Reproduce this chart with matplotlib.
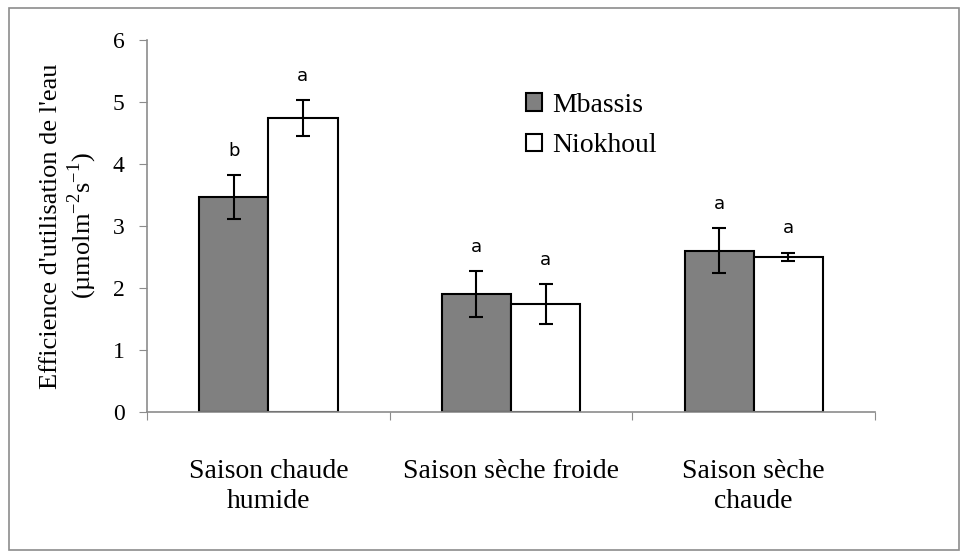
import numpy as np
import matplotlib.pyplot as plt
from matplotlib.patches import Rectangle

# data
categories = ["Saison chaude\nhumide", "Saison sèche froide", "Saison sèche\nchaude"]
mbassis = [3.47, 1.90, 2.60]
mbassis_err = [0.35, 0.37, 0.36]
niokhoul = [4.74, 1.74, 2.50]
niokhoul_err = [0.29, 0.32, 0.07]
letters_mbassis = ["b", "a", "a"]
letters_niokhoul = ["a", "a", "a"]

serif = "Liberation Serif"
plt.rcParams["mathtext.fontset"] = "custom"
plt.rcParams["mathtext.rm"] = serif

fig = plt.figure(figsize=(9.61, 5.54), dpi=100)
ax = fig.add_axes([0.153, 0.2563, 0.7575, 0.6715])

# outer chart frame
fig.patches.append(Rectangle((0.0094, 0.007), 0.988, 0.979, transform=fig.transFigure,
                             fill=False, edgecolor="#8c8c8c", linewidth=1.2))

x = np.arange(len(categories)) + 0.5
w = 0.285
err_kw = dict(ecolor="black", elinewidth=1.5, capsize=5, capthick=1.5)
ax.bar(x - w / 2, mbassis, w, yerr=mbassis_err, color="#808080", edgecolor="black",
       linewidth=1.5, label="Mbassis", error_kw=err_kw, zorder=2)
ax.bar(x + w / 2, niokhoul, w, yerr=niokhoul_err, color="white", edgecolor="black",
       linewidth=1.5, label="Niokhoul", error_kw=err_kw, zorder=2)

# significance letters
for i in range(len(categories)):
    ax.text(x[i] - w / 2, mbassis[i] + mbassis_err[i] + 0.25, letters_mbassis[i],
            ha="center", va="bottom", fontsize=13, family="DejaVu Sans")
    ax.text(x[i] + w / 2, niokhoul[i] + niokhoul_err[i] + 0.25, letters_niokhoul[i],
            ha="center", va="bottom", fontsize=13, family="DejaVu Sans")

ax.set_xlim(0, 3)
ax.set_ylim(0, 6)
ax.set_yticks(range(0, 7))
ax.set_yticklabels([str(v) for v in range(0, 7)], family=serif, fontsize=17)
ax.set_xticks([0, 1, 2, 3])
ax.set_xticklabels([])
ax.set_xticks(x, minor=True)
ax.set_xticklabels(categories, minor=True, family=serif, fontsize=20, linespacing=1.25)
ax.tick_params(axis="x", which="minor", length=0, pad=34)
ax.tick_params(axis="x", which="major", length=6, color="#8c8c8c", direction="out")
ax.tick_params(axis="y", length=6, color="#8c8c8c", direction="out", pad=10)

for s in ["top", "right"]:
    ax.spines[s].set_visible(False)
for s in ["left", "bottom"]:
    ax.spines[s].set_color("#8c8c8c")
    ax.spines[s].set_linewidth(1.2)

ax.set_ylabel("Efficience d'utilisation de l'eau\n(µmolm$^{\\mathrm{-2}}$s$^{\\mathrm{-1}}$)",
              family=serif, fontsize=19, labelpad=10, linespacing=1.15)

leg = ax.legend(loc="upper left", bbox_to_anchor=(0.486, 0.925), frameon=False,
                prop={"family": serif, "size": 20}, handlelength=0.6, handleheight=0.6,
                handletextpad=0.35, labelspacing=0.55)

plt.savefig("out.png", dpi=100)
